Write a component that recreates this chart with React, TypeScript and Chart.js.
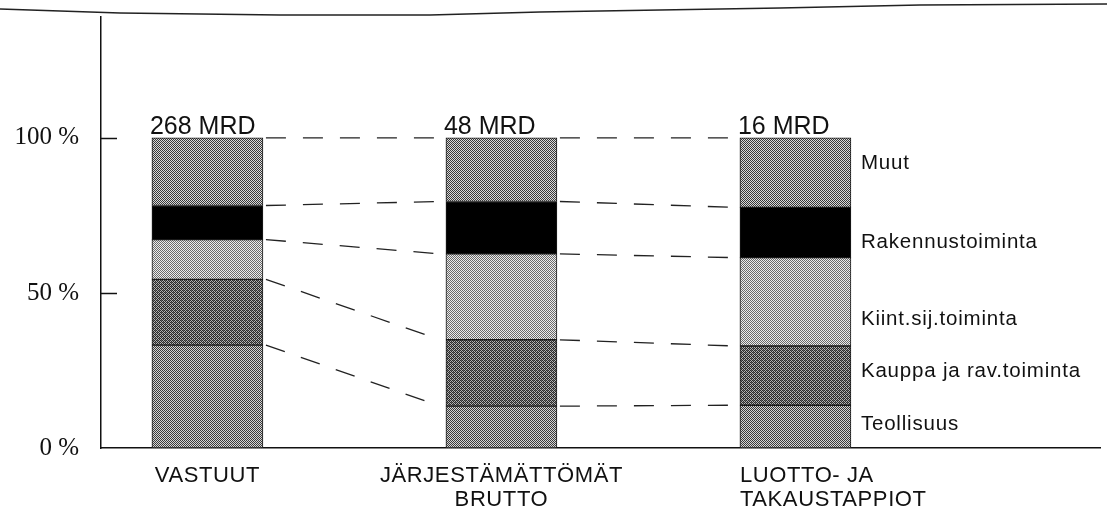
import React, { useEffect, useRef } from 'react';
import { Chart, registerables } from 'chart.js';

Chart.register(...registerables);

// ---- data ----
const categories: string[][] = [['VASTUUT'], ['JÄRJESTÄMÄTTÖMÄT', 'BRUTTO'], ['LUOTTO- JA', 'TAKAUSTAPPIOT']];
const totals: string[] = ['268 MRD', '48 MRD', '16 MRD'];
const seriesNames: string[] = ['Teollisuus', 'Kauppa ja rav.toiminta', 'Kiint.sij.toiminta', 'Rakennustoiminta', 'Muut'];
const teollisuus: number[] = [33.2, 13.5, 13.8];
const kauppa: number[] = [21.2, 21.4, 19.1];
const kiint: number[] = [12.8, 27.7, 28.5];
const rakennus: number[] = [11.0, 16.9, 16.2];
const muut: number[] = [21.8, 20.5, 22.4];
const yTicks: number[] = [0, 50, 100];

const seriesValues = [teollisuus, kauppa, kiint, rakennus, muut];

function makePattern(dark: string, light: string, extra?: string): CanvasPattern | string {
  const c = document.createElement('canvas');
  c.width = 4;
  c.height = 4;
  const g = c.getContext('2d');
  if (!g) return dark;
  g.fillStyle = light;
  g.fillRect(0, 0, 4, 4);
  g.fillStyle = dark;
  for (let y = 0; y < 4; y++) {
    for (let x = 0; x < 4; x++) {
      if ((x + y) % 2 === 0) g.fillRect(x, y, 1, 1);
    }
  }
  if (extra) {
    g.fillStyle = extra;
    g.fillRect(1, 0, 1, 1);
    g.fillRect(3, 2, 1, 1);
  }
  const p = g.createPattern(c, 'repeat');
  return p || dark;
}

const overlayPlugin = {
  id: 'overlay',
  afterDatasetsDraw(chart: any, _args: any, opts: any) {
    const ctx: CanvasRenderingContext2D = chart.ctx;
    const area = chart.chartArea;
    const yScale = chart.scales.y;
    const n = chart.data.datasets.length;
    ctx.save();

    // tick marks on y axis (inside)
    ctx.strokeStyle = '#111';
    ctx.lineWidth = 1.5;
    yTicks.forEach((v) => {
      if (v === 0) return;
      const py = Math.round(yScale.getPixelForValue(v)) + 0.5;
      ctx.beginPath();
      ctx.moveTo(area.left, py);
      ctx.lineTo(area.left + 16, py);
      ctx.stroke();
    });

    // dashed connectors between segment tops
    ctx.setLineDash([20, 17]);
    ctx.lineWidth = 1.3;
    ctx.strokeStyle = '#222';
    for (let d = 0; d < n; d++) {
      const meta = chart.getDatasetMeta(d);
      for (let j = 0; j < meta.data.length - 1; j++) {
        const a = meta.data[j];
        const b = meta.data[j + 1];
        const x1 = a.x + a.width / 2 + 3;
        const x2 = b.x - b.width / 2 - 6;
        ctx.beginPath();
        ctx.moveTo(x1, a.y);
        ctx.lineTo(x2, b.y);
        ctx.stroke();
      }
    }
    ctx.setLineDash([]);

    // totals above bars
    const topMeta = chart.getDatasetMeta(n - 1);
    ctx.fillStyle = '#111';
    ctx.font = '25px "Liberation Sans", Arial, sans-serif';
    ctx.textAlign = 'left';
    ctx.textBaseline = 'alphabetic';
    topMeta.data.forEach((el: any, j: number) => {
      ctx.fillText(totals[j], el.x - el.width / 2 - 2, el.y - 4);
    });

    // category labels below axis
    ctx.font = '22px "Liberation Sans", Arial, sans-serif';
    (ctx as any).letterSpacing = '0.6px';
    ctx.textBaseline = 'middle';
    const baseMeta = chart.getDatasetMeta(0);
    baseMeta.data.forEach((el: any, j: number) => {
      const align = opts.categoryAlign[j];
      const lines = categories[j];
      lines.forEach((line, k) => {
        const y = area.bottom + 28 + k * 24;
        if (align === 'left') {
          ctx.textAlign = 'left';
          ctx.fillText(line, el.x - el.width / 2, y);
        } else {
          ctx.textAlign = 'center';
          ctx.fillText(line, el.x, y);
        }
      });
    });

    // series labels right of last bar
    ctx.font = '20.5px "Liberation Sans", Arial, sans-serif';
    (ctx as any).letterSpacing = '0.8px';
    ctx.textAlign = 'left';
    ctx.textBaseline = 'middle';
    for (let d = 0; d < n; d++) {
      const meta = chart.getDatasetMeta(d);
      const el = meta.data[meta.data.length - 1];
      const midY = (el.y + el.base) / 2 + opts.labelNudge[d];
      ctx.fillText(seriesNames[d], el.x + el.width / 2 + 10, midY);
    }
    (ctx as any).letterSpacing = '0px';

    // scanned frame edge at the top
    ctx.strokeStyle = '#222';
    ctx.lineWidth = 1.6;
    ctx.beginPath();
    const edge = opts.edge as number[][];
    edge.forEach((p, i) => (i === 0 ? ctx.moveTo(p[0], p[1]) : ctx.lineTo(p[0], p[1])));
    ctx.stroke();

    ctx.restore();
  },
};

export default function App() {
  const ref = useRef<HTMLCanvasElement | null>(null);

  useEffect(() => {
    if (!ref.current) return;
    const fills = [
      makePattern('#3a3a3a', '#d4d4d4'),
      makePattern('#282828', '#b4b4b4', '#666666'),
      makePattern('#6a6a6a', '#ececec'),
      '#000000',
      makePattern('#383838', '#dadada'),
    ];
    const datasets = seriesValues.map((vals, d) => ({
      label: seriesNames[d],
      data: vals.map((v, i) => ({ x: i, y: v })),
      backgroundColor: fills[d] as any,
      borderColor: '#1a1a1a',
      borderWidth: 1,
      barThickness: 111,
      borderSkipped: false as any,
    }));

    const chart = new Chart(ref.current, {
      type: 'bar',
      data: { datasets: datasets as any },
      plugins: [overlayPlugin as any],
      options: {
        animation: false,
        responsive: false,
        devicePixelRatio: 1,
        layout: { padding: { left: 0, top: 17, right: 7, bottom: 72 } },
        plugins: {
          legend: { display: false },
          tooltip: { enabled: false },
          overlay: {
            categoryAlign: ['center', 'center', 'left'],
            labelNudge: [-2, -4, 18, 10, -9],
            edge: [[0, 9], [60, 11], [120, 13], [280, 15], [430, 15], [540, 12], [780, 8], [920, 5], [1107, 4]],
          },
        } as any,
        scales: {
          x: {
            type: 'linear',
            min: -0.362,
            max: 3.036,
            stacked: true,
            offset: false,
            grid: { display: false, drawTicks: false },
            ticks: { display: false },
            border: { display: true, color: '#111', width: 1.5 },
            afterFit: (s: any) => { s.height = 0; s.paddingLeft = 0; s.paddingRight = 0; },
          },
          y: {
            type: 'linear',
            min: 0,
            max: 139,
            stacked: true,
            grid: { display: false, drawTicks: false },
            border: { display: true, color: '#111', width: 1.5 },
            afterBuildTicks: (s: any) => { s.ticks = yTicks.map((v) => ({ value: v })); },
            afterFit: (s: any) => { s.width = 101; s.paddingTop = 0; s.paddingBottom = 0; },
            ticks: {
              padding: 22,
              color: '#111',
              font: { family: '"Liberation Serif", "Times New Roman", serif', size: 25 },
              callback: (v: any) => `${v} %`,
            },
          },
        },
      },
    });
    return () => chart.destroy();
  }, []);

  return (
    <div style={{ position: 'fixed', left: 0, top: 0, width: 1107, height: 520, background: '#fff' }}>
      <canvas ref={ref} width={1107} height={520} style={{ display: 'block' }} />
    </div>
  );
}
